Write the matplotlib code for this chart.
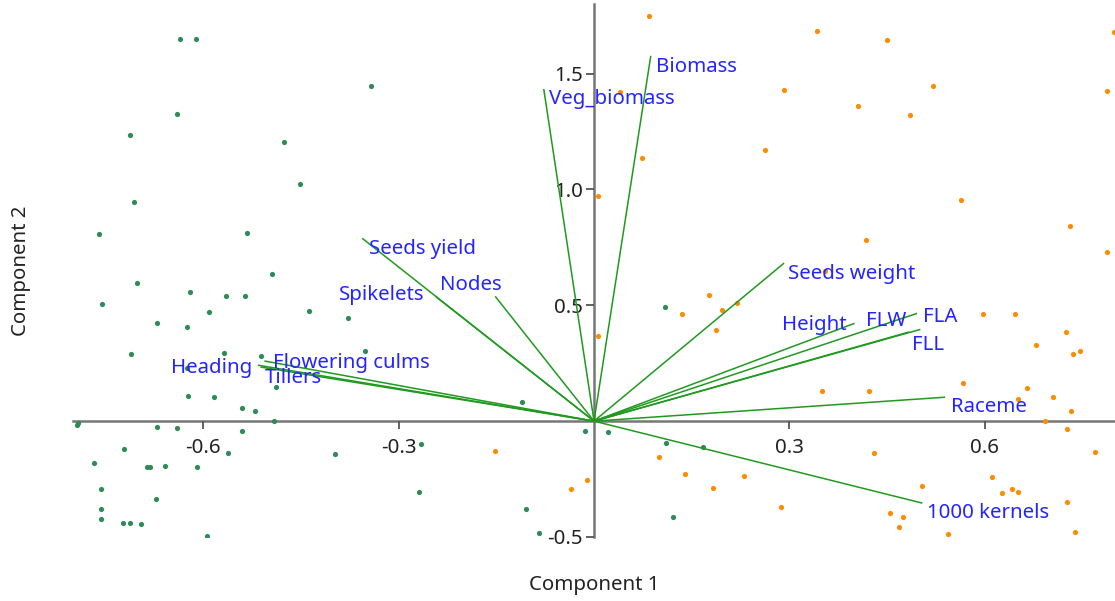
import numpy as np
import matplotlib
matplotlib.use("Agg")
from matplotlib import pyplot as plt

plt.rcParams['font.family'] = ['Noto Sans', 'DejaVu Sans']

### Scores: group 1 (green) ###
g1_x = [-0.635, -0.611, -0.343, -0.640, -0.712, -0.476, -0.451, -0.707, -0.760, -0.533,
        -0.494, -0.702, -0.621, -0.565, -0.536, -0.756, -0.591, -0.438, -0.377, -0.671,
        -0.625, -0.711, -0.568, -0.512, -0.351, -0.625, -0.489, -0.624, -0.583, -0.540,
        -0.520, -0.492, -0.794, -0.792, -0.671, -0.640, -0.540, -0.722, -0.562, -0.398,
        -0.767, -0.687, -0.682, -0.658, -0.610, -0.757, -0.673, -0.757, -0.757, -0.723,
        -0.713, -0.695, -0.595, 0.109, -0.111, -0.014, 0.022, 0.110, 0.167, -0.266,
        -0.268, -0.104, 0.122, -0.084]
g1_y = [1.647, 1.651, 1.448, 1.325, 1.233, 1.204, 1.025, 0.945, 0.807, 0.810,
        0.635, 0.595, 0.559, 0.539, 0.539, 0.507, 0.473, 0.477, 0.447, 0.422,
        0.406, 0.290, 0.296, 0.280, 0.303, 0.231, 0.147, 0.110, 0.105, 0.057,
        0.043, 0.000, -0.015, -0.006, -0.025, -0.031, -0.044, -0.122, -0.139, -0.142,
        -0.180, -0.200, -0.198, -0.193, -0.198, -0.292, -0.335, -0.381, -0.421, -0.440,
        -0.438, -0.443, -0.497, 0.494, 0.081, -0.043, -0.047, -0.096, -0.111, -0.100,
        -0.306, -0.381, -0.415, -0.481]

### Scores: group 2 (orange) ###
g2_x = [0.084, 0.040, 0.291, 0.262, 0.073, 0.006, 0.176, 0.135, 0.197, 0.220,
        0.006, 0.187, -0.152, 0.100, 0.140, 0.230, 0.183, -0.010, -0.036, 0.287,
        0.342, 0.450, 0.798, 0.520, 0.405, 0.485, 0.787, 0.564, 0.731, 0.417,
        0.787, 0.355, 0.598, 0.646, 0.724, 0.679, 0.736, 0.747, 0.567, 0.665,
        0.705, 0.651, 0.733, 0.350, 0.423, 0.692, 0.726, 0.430, 0.769, 0.611,
        0.504, 0.626, 0.642, 0.651, 0.726, 0.455, 0.475, 0.468, 0.543, 0.738]
g2_y = [1.750, 1.422, 1.428, 1.171, 1.137, 0.971, 0.543, 0.464, 0.478, 0.509,
        0.366, 0.392, -0.131, -0.156, -0.230, -0.236, -0.288, -0.256, -0.294, -0.372,
        1.684, 1.645, 1.680, 1.447, 1.359, 1.319, 1.425, 0.956, 0.841, 0.781,
        0.730, 0.648, 0.464, 0.464, 0.384, 0.329, 0.290, 0.302, 0.165, 0.145,
        0.103, 0.095, 0.042, 0.131, 0.129, -0.001, -0.033, -0.138, -0.134, -0.243,
        -0.281, -0.312, -0.293, -0.306, -0.349, -0.397, -0.413, -0.456, -0.488, -0.477]

### Loadings ###
variables = ["Biomass", "Veg_biomass", "Seeds yield", "Spikelets", "Nodes",
             "Heading", "Tillers", "Flowering culms", "Seeds weight", "Height",
             "FLW", "FLA", "FLL", "Raceme", "1000 kernels"]
load_x = [0.087, -0.077, -0.355, -0.242, -0.151, -0.515, -0.511, -0.505, 0.291, 0.399,
          0.483, 0.495, 0.500, 0.538, 0.503]
load_y = [1.573, 1.430, 0.787, 0.535, 0.536, 0.241, 0.233, 0.259, 0.680, 0.421,
          0.384, 0.464, 0.395, 0.103, -0.353]

# where each variable name sits (left edge, vertical centre)
label_pos = {
    "Biomass": (0.095, 1.530),
    "Veg_biomass": (-0.069, 1.388),
    "Seeds yield": (-0.345, 0.744),
    "Spikelets": (-0.391, 0.543),
    "Nodes": (-0.237, 0.586),
    "Heading": (-0.650, 0.231),
    "Tillers": (-0.505, 0.187),
    "Flowering culms": (-0.493, 0.253),
    "Seeds weight": (0.298, 0.637),
    "Height": (0.289, 0.414),
    "FLW": (0.418, 0.431),
    "FLA": (0.505, 0.450),
    "FLL": (0.489, 0.328),
    "Raceme": (0.548, 0.062),
    "1000 kernels": (0.511, -0.398),
}

xticks = [-0.6, -0.3, 0.3, 0.6]
yticks = [-0.5, 0.5, 1.0, 1.5]

FS = 14.7

fig = plt.figure(figsize=(11.15, 6.01), dpi=100)
ax = fig.add_axes([73 / 1115, 1 - 537 / 601, 1 - 73 / 1115, (537 - 4) / 601])
ax.set_xlim(-0.8, 0.8)
ax.set_ylim(-0.5, 1.8)

ax.scatter(g1_x, g1_y, s=14, color='#2e8b57', zorder=2, linewidths=0)
ax.scatter(g2_x, g2_y, s=14, color='#ff8c00', zorder=2, linewidths=0)

for name, lx, ly in zip(variables, load_x, load_y):
    ax.plot([0, lx], [0, ly], color='#1f9a1f', lw=1.1, zorder=3)
    tx, ty = label_pos[name]
    ax.text(tx, ty, name, color='#2424ff', fontsize=FS, ha='left', va='center', zorder=4)

# axes crossing at the origin
for side in ['top', 'right']:
    ax.spines[side].set_visible(False)
ax.spines['left'].set_position(('data', 0))
ax.spines['bottom'].set_position(('data', 0))
for side in ['left', 'bottom']:
    ax.spines[side].set_color('#777777')
    ax.spines[side].set_linewidth(1.8)
    ax.spines[side].set_zorder(1)

ax.set_xticks(xticks)
ax.set_xticklabels(["%.1f" % v for v in xticks])
ax.set_yticks(yticks)
ax.set_yticklabels(["%.1f" % v for v in yticks])
ax.tick_params(axis='x', direction='out', length=6, width=1.3, color='#555555',
               labelsize=FS, labelcolor='#222222', pad=6)
ax.tick_params(axis='y', direction='out', length=6, width=1.3, color='#555555',
               labelsize=FS, labelcolor='#222222', pad=2)

ax.set_xlabel("Component 1", fontsize=FS, color='#222222')
ax.set_ylabel("Component 2", fontsize=FS, color='#222222')
ax.xaxis.set_label_coords(0.5, (537 - 585) / 533)
ax.xaxis.label.set_va('center')
ax.yaxis.set_label_coords((21 - 73) / 1042, 0.5)
ax.yaxis.label.set_va('center')

fig.savefig("out.png", dpi=100)
